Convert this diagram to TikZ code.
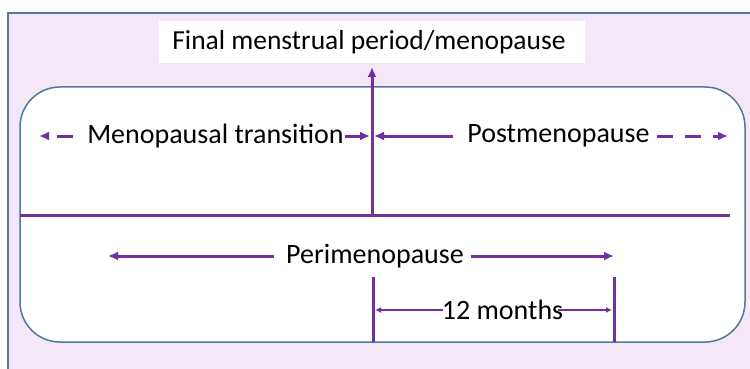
\documentclass[tikz,border=0pt]{standalone}
\usepackage{fontspec}
\setmainfont{Carlito}
\usetikzlibrary{arrows.meta}
\definecolor{purp}{RGB}{112,48,160}
\definecolor{lav}{RGB}{244,231,248}
\definecolor{edge}{RGB}{80,120,160}
\tikzset{
  bgbox/.style={draw=edge, line width=1.5pt, fill=lav},
  panel/.style={draw=edge, line width=1.5pt, fill=white, rounded corners=40pt},
  lbl/.style={inner sep=0pt, font=\fontsize{28}{30}\selectfont, text=black},
  heavy/.style={draw=purp, line width=3pt},
  thin/.style={draw=purp, line width=1.5pt},
  tip/.style={-{Latex[length=10pt,width=9pt]}},
  smalltip/.style={-{Latex[length=6pt,width=6pt]}},
  dashline/.style={dash pattern=on 16pt off 12pt}
}
\begin{document}
\begin{tikzpicture}[x=1pt,y=-1pt]
\useasboundingbox (0,0) rectangle (750,369);
\begin{scope}
  \clip (0,0) rectangle (750,369);
  \path[bgbox] (8,13) rectangle (775,395);
\end{scope}
% title
\node[fill=white, minimum width=426pt, minimum height=42pt, inner sep=0pt] (titlebox) at (372,42) {};
\node[lbl, font=\fontsize{27.5}{30}\selectfont] (title) at (369,42) {Final menstrual period/menopause};
% panel
\path[panel] (20,87) rectangle (745,342);
% axes
\coordinate (top) at (372,67);
\coordinate (axis) at (372,215);
\coordinate (hl) at (20,215);
\coordinate (hr) at (730,215);
\draw[heavy] (hl) -- (hr);
\draw[heavy, tip] (axis) -- (top);
% row 1
\node[lbl] (mt) at (215.5,136) {Menopausal transition};
\node[lbl] (pm) at (558.5,136) {Postmenopause};
\coordinate (mtL) at (39,136);
\coordinate (mtR) at (370,136);
\coordinate (pmL) at (374,136);
\coordinate (pmR) at (728,136);
\draw[heavy, tip, dashline] ([xshift=-14pt]mt.west) -- (mtL);
\draw[heavy, tip] ([xshift=1pt]mt.east) -- (mtR);
\draw[heavy, tip] ([xshift=-14pt]pm.west) -- (pmL);
\draw[heavy, tip, dashline] ([xshift=7pt]pm.east) -- (pmR);
% perimenopause
\node[lbl] (peri) at (375,256) {Perimenopause};
\coordinate (periL) at (108,256);
\coordinate (periR) at (614,256);
\draw[heavy, tip] ([xshift=-12pt]peri.west) -- (periL);
\draw[heavy, tip] ([xshift=7pt]peri.east) -- (periR);
% 12 months
\coordinate (v1t) at (373,277);
\coordinate (v1b) at (373,342);
\coordinate (v2t) at (614,277);
\coordinate (v2b) at (614,342);
\draw[heavy] (v1t) -- (v1b);
\draw[heavy] (v2t) -- (v2b);
\node[lbl] (months) at (502.5,310) {12 months};
\coordinate (mL) at (375,310);
\coordinate (mR) at (612,310);
\draw[thin, smalltip] ([xshift=1pt]months.west) -- (mL);
\draw[thin, smalltip] ([xshift=-5pt]months.east) -- (mR);
\end{tikzpicture}
\end{document}
